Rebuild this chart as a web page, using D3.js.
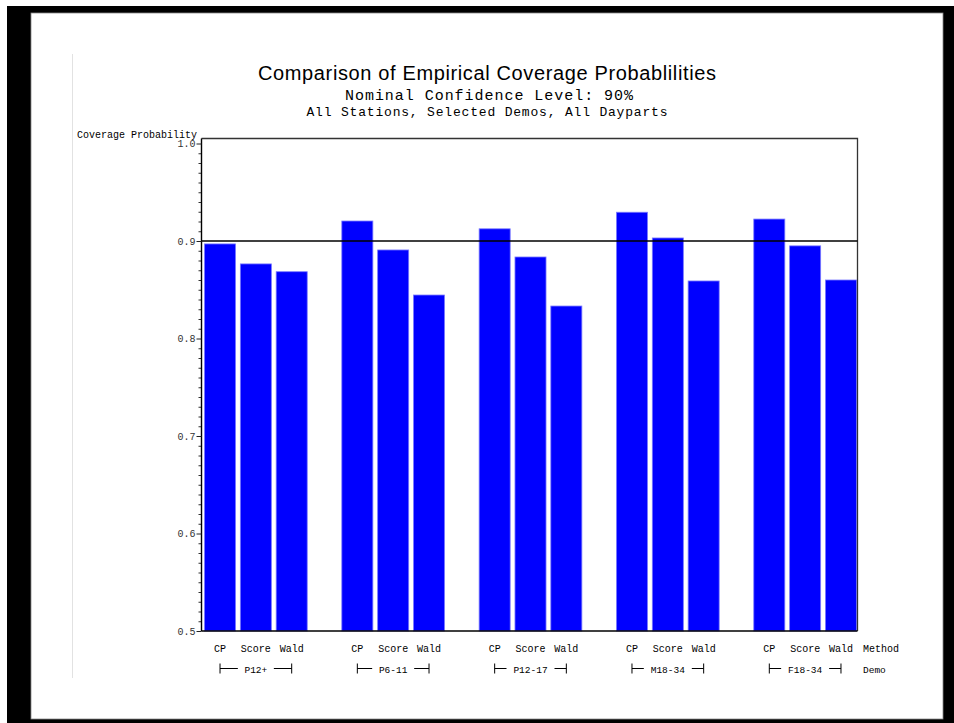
<!DOCTYPE html>
<html>
<head>
<meta charset="utf-8">
<script src="https://cdn.jsdelivr.net/npm/d3@7"></script>
<style>
  body { margin: 0; background: #fff; }
  .mono { font-family: "Liberation Mono", "DejaVu Sans Mono", monospace; }
</style>
</head>
<body>
<div id="chart"></div>
<script>
// coverage probability by demo and method
var demos = ["P12+", "P6-11", "P12-17", "M18-34", "F18-34"];
var methods = ["CP", "Score", "Wald"];
var cpValues = [0.897, 0.9205, 0.9125, 0.9295, 0.9225];
var scoreValues = [0.8765, 0.8908, 0.8836, 0.9031, 0.895];
var waldValues = [0.8685, 0.8446, 0.8333, 0.859, 0.860];
var yTicks = [0.5, 0.6, 0.7, 0.8, 0.9, 1.0];
var nominal = 0.9;

var titleText = "Comparison of Empirical Coverage Probablilities";
var subTitle1 = "Nominal Confidence Level: 90%";
var subTitle2 = "All Stations, Selected Demos, All Dayparts";

var svgWidth = 954;
var svgHeight = 723;

var plot = { left: 201.5, right: 857.5, top: 138.5, bottom: 631 };

var svg = d3.select("#chart")
  .append("svg")
  .attr("width", svgWidth)
  .attr("height", svgHeight);

// black frame round the page
svg.append("rect")
  .attr("x", 7).attr("y", 6)
  .attr("width", svgWidth - 7).attr("height", svgHeight - 6)
  .attr("fill", "#000");
svg.append("rect")
  .attr("x", 31).attr("y", 13)
  .attr("width", 912).attr("height", 706)
  .attr("fill", "#fff")
  .attr("stroke", "#888")
  .attr("stroke-width", 0.8);

// faint margin line
svg.append("line")
  .attr("x1", 72.5).attr("x2", 72.5)
  .attr("y1", 54).attr("y2", 678)
  .attr("stroke", "#e2e2e2");

// build rows
var data = [];
demos.forEach(function(d, i) {
  data.push({ demo: d, method: "CP", value: cpValues[i] });
  data.push({ demo: d, method: "Score", value: scoreValues[i] });
  data.push({ demo: d, method: "Wald", value: waldValues[i] });
});

// scales
var xGroup = d3.scaleBand()
  .domain(demos)
  .range([plot.left + 3, plot.right - 1])
  .paddingInner(0.252)
  .paddingOuter(0);

var xBar = d3.scaleBand()
  .domain(methods)
  .range([0, xGroup.bandwidth()])
  .paddingInner(0.134)
  .paddingOuter(0);

var yScale = d3.scaleLinear()
  .domain([0.5, 1.0])
  .range([plot.bottom, 143.5]);

// bars
svg.append("g")
  .selectAll("rect")
  .data(data)
  .enter().append("rect")
  .attr("x", function(d) { return xGroup(d.demo) + xBar(d.method); })
  .attr("y", function(d) { return yScale(d.value); })
  .attr("width", xBar.bandwidth())
  .attr("height", function(d) { return yScale(0.5) - yScale(d.value); })
  .attr("fill", "#0000ff")
  .attr("stroke", "#7a7aff")
  .attr("stroke-width", 0.8);

// frame of the plot
svg.append("path")
  .attr("d", "M" + plot.left + "," + plot.top + "H" + plot.right + "V" + plot.bottom)
  .attr("fill", "none")
  .attr("stroke", "#333")
  .attr("stroke-width", 1.3);

// reference line at nominal level
svg.append("line")
  .attr("x1", plot.left).attr("x2", plot.right)
  .attr("y1", yScale(nominal)).attr("y2", yScale(nominal))
  .attr("stroke", "#000")
  .attr("stroke-width", 1.4);

// y axis, major and minor ticks
var minorTicks = d3.range(50, 101).map(function(v) { return v / 100; })
  .filter(function(v) { return yTicks.indexOf(v) < 0; });

var yMinor = svg.append("g")
  .attr("transform", "translate(" + plot.left + ",0)")
  .call(d3.axisLeft(yScale).tickValues(minorTicks).tickSize(3).tickFormat(""));
yMinor.select(".domain").remove();
yMinor.selectAll("line").attr("stroke", "#333");

var yAxis = svg.append("g")
  .attr("transform", "translate(" + plot.left + ",0)")
  .call(d3.axisLeft(yScale).tickValues(yTicks).tickSize(5).tickPadding(1)
    .tickFormat(d3.format(".1f")));
yAxis.select(".domain")
  .attr("d", "M0," + plot.bottom + "V" + plot.top)
  .attr("stroke", "#000")
  .attr("stroke-width", 1.4);
yAxis.selectAll("line").attr("stroke", "#222");
yAxis.selectAll("text")
  .attr("class", "mono")
  .attr("font-size", 10)
  .attr("fill", "#333");

// x axis line
svg.append("line")
  .attr("x1", plot.left).attr("x2", plot.right)
  .attr("y1", plot.bottom).attr("y2", plot.bottom)
  .attr("stroke", "#000")
  .attr("stroke-width", 1.4);

// y axis title
svg.append("text")
  .attr("class", "mono")
  .attr("x", 197).attr("y", 138)
  .attr("text-anchor", "end")
  .attr("font-size", 10)
  .text("Coverage Probability");

// method labels
svg.append("g")
  .selectAll("text")
  .data(data)
  .enter().append("text")
  .attr("class", "mono")
  .attr("x", function(d) { return xGroup(d.demo) + xBar(d.method) + xBar.bandwidth() / 2; })
  .attr("y", 652)
  .attr("text-anchor", "middle")
  .attr("font-size", 10)
  .text(function(d) { return d.method; });

// demo labels with brackets
var demoG = svg.append("g")
  .selectAll("g")
  .data(demos)
  .enter().append("g");

demoG.each(function(d) {
  var g = d3.select(this);
  var x0 = xGroup(d) + xBar("CP") + xBar.bandwidth() / 2;
  var x1 = xGroup(d) + xBar("Wald") + xBar.bandwidth() / 2;
  var mid = (x0 + x1) / 2;
  var half = d.length * 3 + 6;
  var yl = 668.5;
  g.append("path")
    .attr("d", "M" + x0 + "," + (yl - 5) + "V" + (yl + 5) + "M" + x0 + "," + yl + "H" + (mid - half)
      + "M" + (mid + half) + "," + yl + "H" + x1 + "M" + x1 + "," + (yl - 5) + "V" + (yl + 5))
    .attr("fill", "none")
    .attr("stroke", "#000")
    .attr("stroke-width", 1);
  g.append("text")
    .attr("class", "mono")
    .attr("x", mid).attr("y", 673)
    .attr("text-anchor", "middle")
    .attr("font-size", 9.5)
    .text(d);
});

svg.append("text")
  .attr("class", "mono")
  .attr("x", 863).attr("y", 652)
  .attr("font-size", 10)
  .text("Method");
svg.append("text")
  .attr("class", "mono")
  .attr("x", 863).attr("y", 673)
  .attr("font-size", 9.5)
  .text("Demo");

// titles
svg.append("text")
  .attr("x", 487).attr("y", 80)
  .attr("text-anchor", "middle")
  .attr("font-family", "'Liberation Sans', Arial, sans-serif")
  .attr("font-size", 20)
  .attr("textLength", 458)
  .attr("lengthAdjust", "spacing")
  .text(titleText);
svg.append("text")
  .attr("class", "mono")
  .attr("x", 489).attr("y", 100)
  .attr("text-anchor", "middle")
  .attr("font-size", 15)
  .attr("textLength", 288)
  .attr("lengthAdjust", "spacing")
  .text(subTitle1);
svg.append("text")
  .attr("class", "mono")
  .attr("x", 487).attr("y", 116)
  .attr("text-anchor", "middle")
  .attr("font-size", 13)
  .attr("textLength", 361)
  .attr("lengthAdjust", "spacing")
  .text(subTitle2);
</script>
</body>
</html>
